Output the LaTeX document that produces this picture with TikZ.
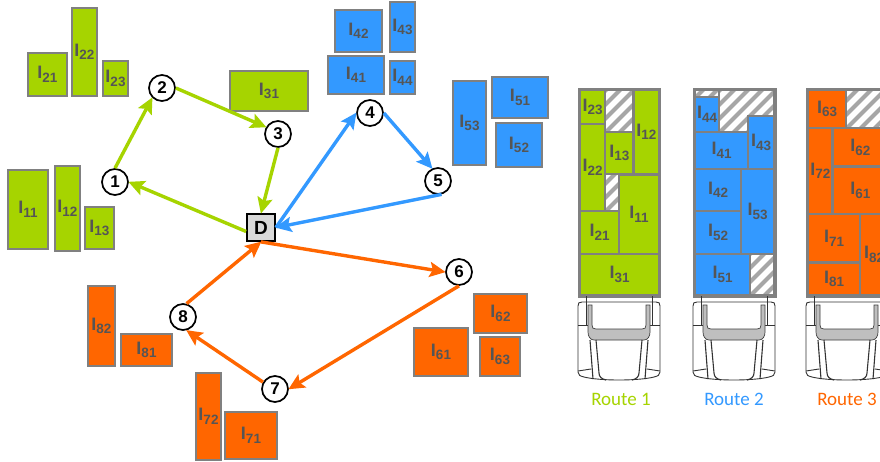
\documentclass[tikz,border=0pt]{standalone}
\usepackage{fontspec}
\setmainfont{Liberation Sans}
\newfontfamily\routefont{Carlito}
\usetikzlibrary{arrows.meta,calc}
\definecolor{cg}{HTML}{A6D400}
\definecolor{cb}{HTML}{3399FF}
\definecolor{co}{HTML}{FF6600}
\definecolor{bd}{HTML}{808080}
\definecolor{tx}{HTML}{555555}
\definecolor{ht}{HTML}{A6A6A6}
\definecolor{dbox}{HTML}{D9D9D9}
\definecolor{cabg}{HTML}{BFBFBF}
\newcommand{\lab}[2]{{\fontsize{18}{18}\bfseries\selectfont #1\raisebox{-3.5pt}{\fontsize{13.5}{13.5}\selectfont #2}}}
% item: fill, x1,y1,x2,y2, digits
\newcommand{\itm}[6]{\path[draw=bd,line width=2.4pt,fill=#1] (#2,#3) rectangle (#4,#5);
  \node[itemlabel] (i#6#1) at ({(#2+#4)/2},{(#3+#5)/2}) {\lab{I}{#6}};}
\newcommand{\hatchbox}[4]{\begin{scope}
  \fill[white] (#1,#2) rectangle (#3,#4);
  \clip (#1,#2) rectangle (#3,#4);
  \foreach \k in {-10,...,30}{
    \draw[ht,line width=4.2pt] ({#1+\k*14},{#4+1}) -- ++(80,-80);}
  \end{scope}
  \draw[bd,line width=2.2pt] (#1,#2) rectangle (#3,#4);}
\tikzset{
  x=1pt,y=-1pt,
  itemlabel/.style={text=tx,inner sep=0pt},
  stop/.style={circle,draw=black,fill=white,line width=1.7pt,minimum size=26pt,inner sep=0pt,font=\fontsize{17}{17}\bfseries\selectfont},
  depot/.style={draw=black,fill=dbox,line width=1.8pt,minimum width=28pt,minimum height=27pt,inner sep=0pt,font=\fontsize{19}{19}\bfseries\selectfont},
  link/.style={line width=3.4pt,-{Stealth[length=16pt,width=15pt,inset=3pt]},shorten >=-0.5pt},
  cabline/.style={black!80,line width=.9pt},
  cabgrey/.style={draw=black!75,fill=cabg,line width=.7pt},
  routelab/.style={inner sep=0pt,font=\routefont\fontsize{19}{19}\selectfont},
  pics/cab/.style={code={
    \draw[cabline,fill=white] (0,4) .. controls (0,1) and (1,0) .. (4,0) -- (78,0) .. controls (81,0) and (82,1) .. (82,4) -- (82,70) .. controls (82,73) and (80,74) .. (76,75) .. controls (60,79) and (22,79) .. (6,75) .. controls (2,74) and (0,73) .. (0,70) -- cycle;
    \draw[cabline] (8,-6) -- (8,23) (74,-6) -- (74,23);
    \draw[cabline] (0,23) -- (11,23) (71,23) -- (82,23);
    \draw[cabline] (0,69) -- (13,67) (82,69) -- (69,67);
    \draw[cabgrey] (10,3) -- (14,3) -- (14,23) .. controls (14,26) and (15,27) .. (18,27) -- (64,27) .. controls (67,27) and (68,26) .. (68,23) -- (68,3) -- (72,3) -- (72,30) .. controls (72,34) and (70,38) .. (66,38) -- (16,38) .. controls (12,38) and (10,34) .. (10,30) -- cycle;
    \draw[cabline,line width=1.1pt] (12,38) -- (15,77) (18,38) -- (21,71) .. controls (21,75) and (24,77) .. (28,78)
      (70,38) -- (67,77) (64,38) -- (61,71) .. controls (61,75) and (58,77) .. (54,78);
  }}
}
\begin{document}
\begin{tikzpicture}
\path[use as bounding box,fill=white] (0,0) rectangle (880,461);
\begin{scope}
\clip (0,0) rectangle (880,461);
% loose items
\itm{cg}{28}{53}{67}{96}{21}
\itm{cg}{72}{8}{97}{96}{22}
\itm{cg}{103}{61}{128}{96}{23}
\itm{cg}{230}{71}{308}{111}{31}
\itm{cg}{8}{170}{48}{249}{11}
\itm{cg}{55}{166}{80}{251}{12}
\itm{cg}{85}{207}{114}{249}{13}
\itm{cb}{335}{10}{382}{52}{42}
\itm{cb}{390}{2}{415}{52}{43}
\itm{cb}{328}{56}{384}{94}{41}
\itm{cb}{390}{61}{415}{94}{44}
\itm{cb}{453}{81}{486}{165}{53}
\itm{cb}{492}{77}{548}{118}{51}
\itm{cb}{496}{123}{542}{167}{52}
\itm{co}{88}{286}{115}{366}{82}
\itm{co}{121}{334}{172}{366}{81}
\itm{co}{196}{373}{221}{460}{72}
\itm{co}{225}{412}{277}{459}{71}
\itm{co}{414}{328}{468}{376}{61}
\itm{co}{474}{294}{527}{333}{62}
\itm{co}{480}{337}{520}{376}{63}
% route 1 load
\draw[bd,line width=3pt,fill=white] (579,89) rectangle (659.5,296);
\itm{cg}{580}{90}{605}{124}{23}
\hatchbox{605}{90}{633}{132}
\itm{cg}{633.5}{90}{659}{174}{12}
\itm{cg}{605}{132}{633.5}{174}{13}
\itm{cg}{580}{124}{605}{211}{22}
\hatchbox{605}{174}{619}{211}
\itm{cg}{619}{174.5}{659}{254}{11}
\itm{cg}{580}{211}{619}{254}{21}
\itm{cg}{580}{254}{659}{295}{31}
% route 2 load
\draw[bd,line width=3pt,fill=white] (694,89) rectangle (775,296);
\hatchbox{695}{90}{774}{97}
\hatchbox{719}{90}{774}{132}
\itm{cb}{695}{97}{719}{132}{44}
\itm{cb}{748}{116}{774}{169}{43}
\itm{cb}{695}{132}{748}{169}{41}
\itm{cb}{695}{169}{741}{211}{42}
\itm{cb}{741}{169}{774}{254}{53}
\itm{cb}{695}{211}{741}{254}{52}
\itm{cb}{695}{254}{750}{295}{51}
\hatchbox{750}{254}{774}{295}
% route 3 load
\draw[bd,line width=3pt,fill=white] (807,89) rectangle (890,296);
\itm{co}{808}{90}{846}{128}{63}
\hatchbox{846}{90}{888}{128}
\itm{co}{808}{128}{832.5}{214}{72}
\itm{co}{832.5}{128}{888}{166.5}{62}
\itm{co}{832.5}{166.5}{888}{214}{61}
\itm{co}{808}{214}{860}{262.5}{71}
\itm{co}{808}{262.5}{860}{295}{81}
\itm{co}{860}{214}{888}{295}{82}
% cabs
\pic at (578,302) {cab};
\pic at (693,302) {cab};
\pic at (806,302) {cab};
\end{scope}
\node[routelab,text=cg] (r1) at (621,399) {Route 1};
\node[routelab,text=cb] (r2) at (734,399) {Route 2};
\node[routelab,text=co] (r3) at (847,399) {Route 3};
% stops and depot
\node[stop] (n1) at (115,182) {1};
\node[stop] (n2) at (162,88) {2};
\node[stop] (n3) at (278,134) {3};
\node[stop] (n4) at (370,113) {4};
\node[stop] (n5) at (438,181) {5};
\node[stop] (n6) at (459,272) {6};
\node[stop] (n7) at (275,389) {7};
\node[stop] (n8) at (183,317) {8};
\node[depot] (D) at (261,227.5) {D};
% connectors
\draw[link,cg] (n1.north) -- (n2.south west);
\draw[link,cg] (n2.east) -- (n3.150);
\draw[link,cg] (n3.south) -- (D.north);
\draw[link,cg] (D.195) -- (n1.east);
\draw[link,cb] (D.east) -- (n4.west);
\draw[link,cb] (n4.east) -- (n5.115);
\draw[link,cb] (n5.-75) -- (D.east);
\draw[link,co] (D.south) -- (n6.west);
\draw[link,co] (n6.south) -- (n7.east);
\draw[link,co] (n7.150) -- (n8.-75);
\draw[link,co] (n8.75) -- (D.south);
\end{tikzpicture}
\end{document}
